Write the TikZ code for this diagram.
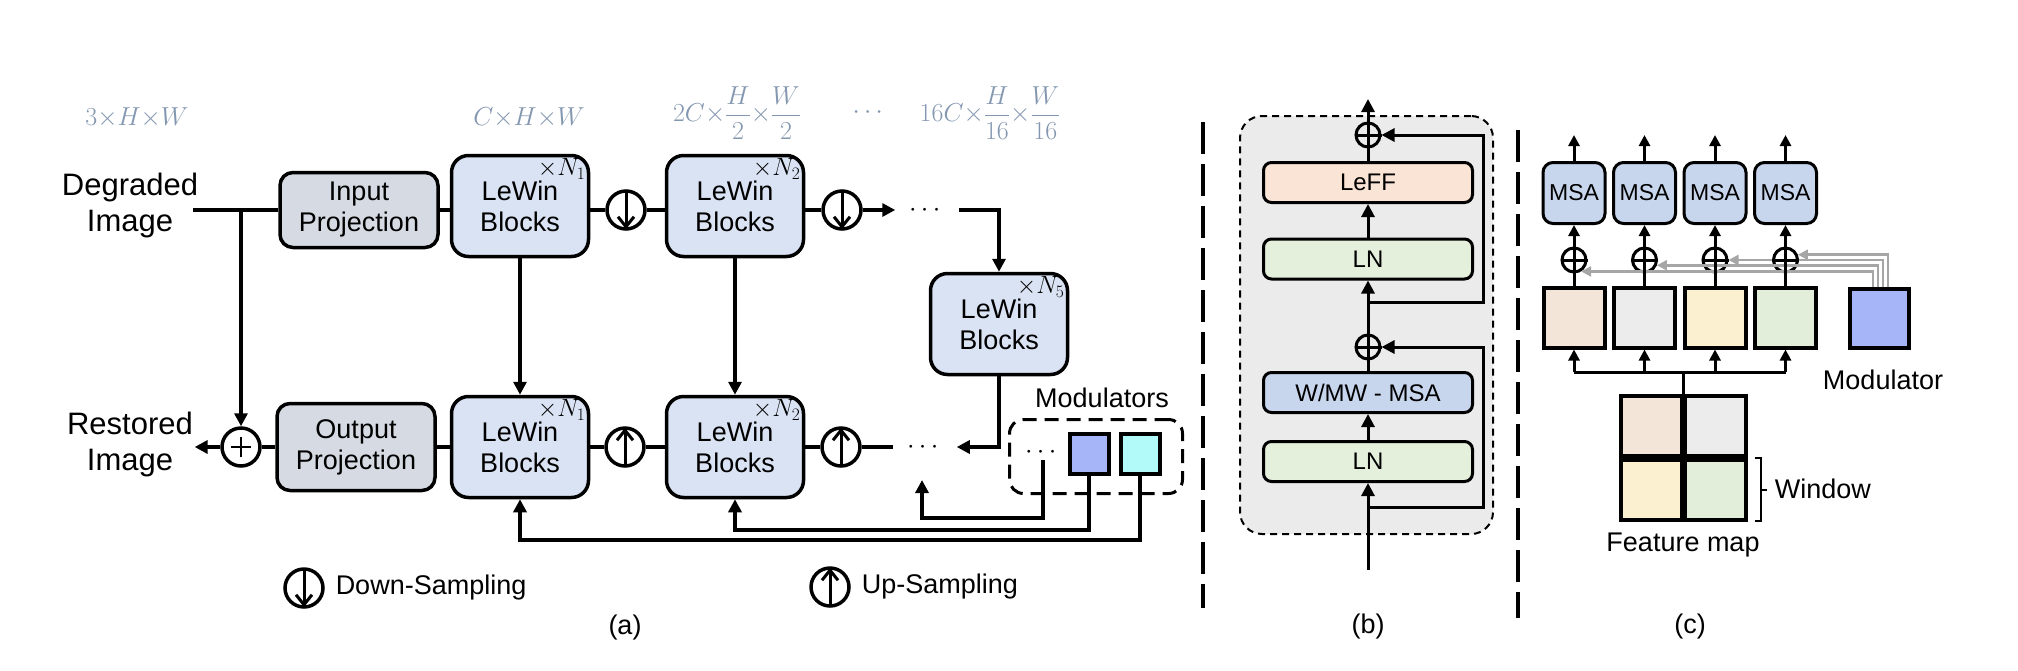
\RequirePackage{fix-cm}
\documentclass[tikz,border=0pt]{standalone}
\usepackage{amsmath,amssymb}
\usepackage{fontspec}
\setmainfont{Liberation Sans}
\usepackage{xcolor}
\usepackage{tikz}
\usetikzlibrary{arrows.meta}

\definecolor{dimgray}{RGB}{132,151,176}
\definecolor{lewinfill}{RGB}{218,227,243}
\definecolor{projfill}{RGB}{214,219,227}
\definecolor{bgfill}{RGB}{235,235,235}
\definecolor{lefffill}{RGB}{250,228,213}
\definecolor{lnfill}{RGB}{228,239,220}
\definecolor{msafill}{RGB}{200,214,237}
\definecolor{modblue}{RGB}{165,181,248}
\definecolor{modcyan}{RGB}{178,250,250}
\definecolor{patchpeach}{RGB}{243,229,216}
\definecolor{patchgray}{RGB}{236,236,236}
\definecolor{patchyellow}{RGB}{251,241,208}
\definecolor{patchgreen}{RGB}{227,238,218}
\definecolor{modgray}{RGB}{166,166,166}

\newcommand{\lblfont}{\fontsize{27}{31}\selectfont}
\newcommand{\imgfont}{\fontsize{31}{36}\selectfont}
\newcommand{\dimfont}{\fontsize{26}{30}\selectfont}
\newcommand{\boxfont}{\fontsize{24}{28}\selectfont}

\begin{document}
\begin{tikzpicture}[x=1pt,y=-1pt,line width=3.5pt,
  >={Triangle[length=13pt,width=13pt]},
  txt/.style={inner sep=0pt, align=center, font=\lblfont},
  dimlbl/.style={inner sep=0pt, text=dimgray, font=\dimfont},
  proj/.style={draw, rounded corners=13pt, fill=projfill, minimum width=158pt, align=center, font=\lblfont},
  lewin/.style={draw, rounded corners=17pt, fill=lewinfill, minimum width=137pt, minimum height=101pt, align=center, font=\lblfont},
  reps/.style={anchor=north east, inner sep=3pt, font=\fontsize{25}{29}\selectfont},
  samp/.style={circle, draw, minimum size=38pt, inner sep=0pt},
  addc/.style={circle, draw, line width=3pt, minimum size=24pt, inner sep=0pt},
  layer/.style={draw, line width=3pt, rounded corners=8pt, minimum width=209pt, minimum height=40pt, font=\boxfont},
  msa/.style={draw, line width=3pt, rounded corners=10pt, fill=msafill, minimum width=62pt, minimum height=61pt, inner sep=0pt, font=\fontsize{23}{26}\selectfont},
  patch/.style={draw, line width=4pt, minimum width=61pt, minimum height=60pt, inner sep=0pt},
  modsq/.style={draw, line width=4pt, minimum width=39pt, minimum height=40pt, inner sep=0pt},
  divider/.style={line width=3.5pt, dash pattern=on 32pt off 10pt},
  smallarr/.style={line width=3pt, -{Triangle[length=11pt,width=11pt]}},
  grayarr/.style={draw=modgray, line width=2.5pt, -{Triangle[length=10pt,width=10pt]}}]

\useasboundingbox (0,0) rectangle (2018,670);

% (a) feature sizes
\node[dimlbl] (dim0) at (137,118) {$3{\times}H{\times}W$};
\node[dimlbl] (dim1) at (529,118) {$C{\times}H{\times}W$};
\node[dimlbl] (dim2) at (737,113) {$2C{\times}\dfrac{H}{2}{\times}\dfrac{W}{2}$};
\node[dimlbl] (dimdots) at (870,113) {$\cdots$};
\node[dimlbl] (dim4) at (990,113) {$16C{\times}\dfrac{H}{16}{\times}\dfrac{W}{16}$};

% (a) encoder
\node[txt, font=\imgfont] (degr) at (130,205) {Degraded\\Image};
\node[proj, minimum height=75pt] (inproj) at (359,210) {Input\\Projection};
\node[lewin] (enc1) at (520,206) {LeWin\\Blocks};
\node[samp] (down1) at (626,210) {};
\node[lewin] (enc2) at (735,206) {LeWin\\Blocks};
\node[samp] (down2) at (842,210) {};
\node[txt, inner xsep=12pt] (dotsenc) at (927,210) {$\cdots$};
\node[lewin] (bott) at (999,324) {LeWin\\Blocks};

% (a) decoder
\node[txt, font=\imgfont] (rest) at (130,444) {Restored\\Image};
\node[samp] (plusout) at (241,447) {};
\node[proj, minimum height=87pt] (outproj) at (356,447) {Output\\Projection};
\node[lewin] (dec1) at (520,447) {LeWin\\Blocks};
\node[samp] (up1) at (625,447) {};
\node[lewin] (dec2) at (735,447) {LeWin\\Blocks};
\node[samp] (up2) at (841,447) {};
\node[txt, inner xsep=12pt] (dotsdec) at (925,447) {$\cdots$};

\node[reps] (enc1n) at (enc1.north east) {$\times N_1$};
\node[reps] (enc2n) at (enc2.north east) {$\times N_2$};
\node[reps] (bottn) at (bott.north east) {$\times N_5$};
\node[reps] (dec1n) at (dec1.north east) {$\times N_1$};
\node[reps] (dec2n) at (dec2.north east) {$\times N_2$};

\coordinate (instart) at (193,210);
\draw (instart) -- (inproj.west);
\draw (inproj.east) -- (inproj.east -| enc1.west);
\draw (down1.west -| enc1.east) -- (down1.west);
\draw (down1.east) -- (down1.east -| enc2.west);
\draw (down2.west -| enc2.east) -- (down2.west);
\draw[->] (down2.east) -- (dotsenc.west);
\draw[->] (dotsenc.east) -| (bott.north);
\draw[->] (bott.south) |- (dotsdec.east);
\draw (up2.east) -- (dotsdec.west);
\draw (dec2.east) -- (up2.west);
\draw (up1.east) -- (dec2.west);
\draw (dec1.east) -- (up1.west);
\draw (outproj.east) -- (dec1.west);
\draw (plusout.east) -- (outproj.west);
\draw[->] (plusout.west) -- (plusout.west -| rest.east);
\draw[->] (instart -| plusout.north) -- (plusout.north);
\draw[->] (enc1.south) -- (dec1.north);
\draw[->] (enc2.south) -- (dec2.north);
\draw[line width=1.5pt] ([xshift=-10pt]plusout.center) -- ([xshift=10pt]plusout.center)
  ([yshift=-10pt]plusout.center) -- ([yshift=10pt]plusout.center);

% modulators
\node[draw, line width=3pt, dash pattern=on 14pt off 8pt, rounded corners=14pt, minimum width=173pt, minimum height=74pt] (modbox) at (1096,456.5) {};
\node[txt] (modlbl) at (1102,398) {Modulators};
\node[txt] (dotsmod) at (1043,452) {$\cdots$};
\node[modsq, fill=modblue] (modA) at (1089,454) {};
\node[modsq, fill=modcyan] (modB) at (1140,454) {};
\coordinate (freemod) at (922,480);
\draw[->] (dotsmod.south) -- (dotsmod.south |- 0,518) -| (freemod);
\draw[->] (modA.south) -- (modA.south |- 0,530) -| (dec2.south);
\draw[->] (modB.south) -- (modB.south |- 0,540) -| (dec1.south);

% legend
\node[samp] (legdown) at (304,588) {};
\node[txt, anchor=west] (legdowntxt) at (334,588) {Down-Sampling};
\node[samp] (legup) at (830,587) {};
\node[txt, anchor=west] (leguptxt) at (860,587) {Up-Sampling};
\node[txt] (capa) at (625,628) {(a)};

% arrows inside the sampling circles
\foreach \c in {down1,down2,legdown} {
  \draw[line width=3pt] ([yshift=-2pt]\c.north) -- ([yshift=4pt]\c.south);
  \draw[line width=3pt] ([xshift=-8pt,yshift=14pt]\c.south) -- ([yshift=4pt]\c.south) -- ([xshift=8pt,yshift=14pt]\c.south);
}
\foreach \c in {up1,up2,legup} {
  \draw[line width=3pt] ([yshift=2pt]\c.south) -- ([yshift=-4pt]\c.north);
  \draw[line width=3pt] ([xshift=-8pt,yshift=-14pt]\c.north) -- ([yshift=-4pt]\c.north) -- ([xshift=8pt,yshift=-14pt]\c.north);
}

% (b) LeWin block
\draw[divider] (1203,122) -- (1203,608);
\draw[divider] (1518,130) -- (1518,618);
\node[draw, fill=bgfill, line width=2pt, dash pattern=on 7pt off 5pt, rounded corners=22pt, minimum width=253pt, minimum height=418pt] (lewinbg) at (1366.5,325) {};
\node[layer, fill=lefffill] (leff) at (1368,182.5) {LeFF};
\node[layer, fill=lnfill] (ln2) at (1368,259) {LN};
\node[layer, fill=msafill] (wmsa) at (1368,392.5) {W/MW - MSA};
\node[layer, fill=lnfill] (ln1) at (1368,461.5) {LN};
\node[addc] (addb2) at (1368,135) {};
\node[addc] (addb1) at (1368,347) {};
\coordinate (bin) at (1368,570);
\coordinate (bout) at (1368,99);
\begin{scope}[line width=3pt]
\draw[->] (bin) -- (ln1.south);
\draw[->] (ln1.north) -- (wmsa.south);
\draw (wmsa.north) -- (addb1.south);
\draw[->] (addb1.north) -- (ln2.south);
\draw[->] (ln2.north) -- (leff.south);
\draw (leff.north) -- (addb2.south);
\draw[->] (addb2.north) -- (bout);
\draw[->] (1368,507) -- (1483,507) |- (addb1.east);
\draw[->] (1368,302) -- (1483,302) |- (addb2.east);
\end{scope}
\node[txt] (capb) at (1368,627) {(b)};

% (c) window attention with modulator
\foreach \i/\fc in {1/patchpeach,2/patchgray,3/patchyellow,4/patchgreen} {
  \node[msa] (msa\i) at ({1574+70.5*(\i-1)},193) {MSA};
  \node[addc] (addc\i) at ({1574+70.5*(\i-1)},260) {};
  \node[patch, fill=\fc] (tok\i) at ({1574+70.5*(\i-1)},317.5) {};
  \coordinate (cout\i) at ({1574+70.5*(\i-1)},135);
  \coordinate (csplit\i) at ({1574+70.5*(\i-1)},372);
}
\node[modsq, fill=modblue, minimum width=59pt, minimum height=59pt] (modc) at (1879.5,318.5) {};
\node[txt] (modclbl) at (1883,380) {Modulator};
\draw[grayarr] ([xshift=-6.5pt]modc.north) |- (addc1.-58);
\draw[grayarr] ([xshift=-1.5pt]modc.north) |- (addc2.-23);
\draw[grayarr] ([xshift=3.5pt]modc.north) |- (addc3.east);
\draw[grayarr] ([xshift=8.5pt]modc.north) |- (addc4.23);
\foreach \i in {1,...,4} {
  \draw[smallarr] (msa\i.north) -- (cout\i);
  \draw[smallarr] (addc\i.north) -- (msa\i.south);
  \draw[line width=3pt] (tok\i.north) -- (addc\i.south);
  \draw[smallarr] (csplit\i) -- (tok\i.south);
}
\foreach \c in {addb1,addb2,addc1,addc2,addc3,addc4} {
  \draw[line width=3pt] (\c.north) -- (\c.south) (\c.west) -- (\c.east);
}

\node[patch, fill=patchpeach] (fm11) at (1651,426) {};
\node[patch, fill=patchgray] (fm12) at (1715.5,426) {};
\node[patch, fill=patchyellow] (fm21) at (1651,490) {};
\node[patch, fill=patchgreen] (fm22) at (1715.5,490) {};
\draw[line width=3pt] (fm11.north east) -- (fm11.north east |- csplit1);
\draw[line width=3pt] (csplit1) -- (csplit4);
\draw[line width=2.5pt] (1755,458) -- (1761,458) -- (1761,521) -- (1755,521);
\draw[line width=2.5pt] (1761,490) -- (1767,490);
\node[txt, anchor=west] (winlbl) at (1773,489) {Window};
\node[txt] (fmlbl) at (1683,545) {Feature map};
\node[txt] (capc) at (1690,627) {(c)};

\end{tikzpicture}
\end{document}
